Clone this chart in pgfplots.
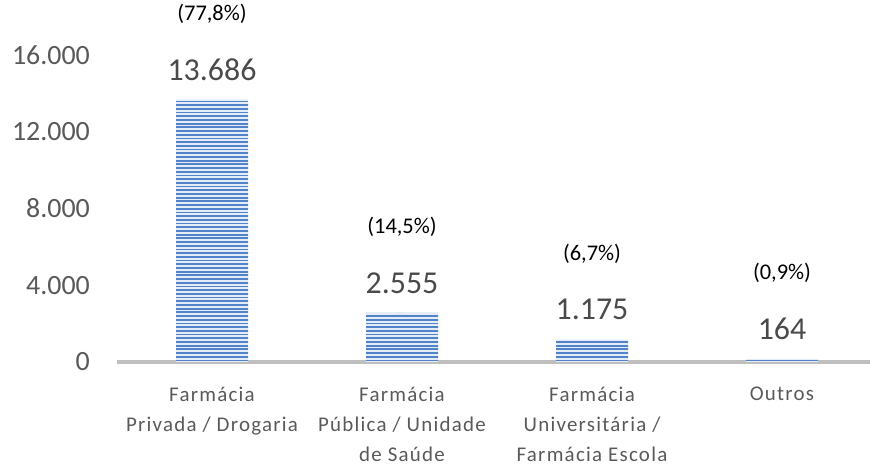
\documentclass[border=0pt]{standalone}
\usepackage{pgfplots}
\pgfplotsset{compat=1.18}
\usepackage{pgfplotstable}
\usepackage{fontspec}
\setmainfont{Carlito}
\usetikzlibrary{patterns}
\pgfdeclarepatternformonly{hstripes}{\pgfpoint{-1bp}{-1bp}}{\pgfpoint{201bp}{4.7bp}}{\pgfpoint{200bp}{3.7bp}}{%
  \pgfpathrectangle{\pgfpoint{-1bp}{0bp}}{\pgfpoint{202bp}{1.8bp}}\pgfusepath{fill}}
\definecolor{stripeblue}{HTML}{5283C8}
\definecolor{barbg}{HTML}{E4ECF7}
\definecolor{txtgray}{HTML}{595959}
\definecolor{valgray}{HTML}{4A4A4A}
\definecolor{axgray}{HTML}{BFBFBF}
\pgfplotstableread{
x y val pct
0 13686 13.686 77,8
1 2555 2.555 14,5
2 1175 1.175 6,7
3 164 164 0,9
}\datatab
\begin{document}
\begin{tikzpicture}
\begin{axis}[
  at={(117bp,103bp)}, anchor=south west,
  scale only axis, width=760bp, height=307bp,
  xmin=-0.5, xmax=3.5, ymin=0, ymax=16000,
  ybar, bar width=72bp, bar shift=0pt,
  clip=false,
  axis x line=bottom, axis y line=left,
  x axis line style={draw=axgray, line width=3bp, -},
  y axis line style={draw=none},
  major tick length=0pt,
  xtick={0,1,2,3},
  xticklabels={{Farmácia\\Privada / Drogaria},{Farmácia\\Pública / Unidade\\de Saúde},{Farmácia\\Universitária /\\Farmácia Escola},{Outros}},
  xticklabel style={align=center, anchor=north, inner sep=0pt, yshift=-25bp,
    font=\fontsize{21}{30}\selectfont\addfontfeature{LetterSpace=6}, text=txtgray},
  ytick={0,4000,8000,12000,16000},
  scaled y ticks=false,
  yticklabel style={anchor=east, inner sep=0pt, xshift=-27bp,
    font=\fontsize{28}{32}\selectfont, text=txtgray,
    /pgf/number format/fixed, /pgf/number format/1000 sep={.}},
  /pgf/number format/.cd, 1000 sep={.}, assume math mode=true,
]
\addplot[fill=barbg, draw=none,
  postaction={pattern=hstripes, pattern color=stripeblue},
  point meta=explicit symbolic,
  nodes near coords={\pgfplotspointmeta},
  every node near coord/.append style={anchor=center, yshift=30bp, inner sep=0pt,
    font=\fontsize{32}{36}\selectfont, text=valgray}]
  table[x=x, y=y, meta=val] {\datatab};
\addplot[fill=none, draw=none,
  point meta=explicit symbolic,
  nodes near coords={(\pgfplotspointmeta\%)},
  every node near coord/.append style={anchor=center, yshift=86bp, inner sep=0pt,
    font=\fontsize{22.5}{26}\selectfont, text=black}]
  table[x=x, y=y, meta=pct] {\datatab};
\end{axis}
\pgfresetboundingbox
\useasboundingbox (0,0) rectangle (870bp,465bp);
\end{tikzpicture}
\end{document}
